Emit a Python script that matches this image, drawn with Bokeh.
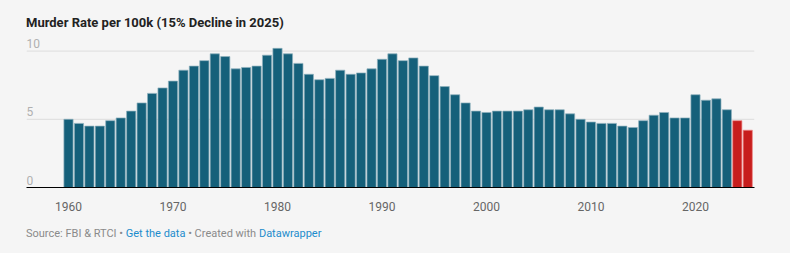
from bokeh.plotting import figure
from bokeh.models import ColumnDataSource, FixedTicker, Range1d, Div
from bokeh.layouts import column
from bokeh.core.properties import value
from bokeh.embed import file_html
from bokeh.resources import INLINE

years = list(range(1960, 2026))
rates = [5.0, 4.7, 4.5, 4.5, 4.9, 5.1, 5.6, 6.2, 6.9, 7.3,
         7.8, 8.6, 8.9, 9.3, 9.8, 9.6, 8.7, 8.8, 8.9, 9.7,
         10.2, 9.8, 9.1, 8.3, 7.9, 8.0, 8.6, 8.3, 8.4, 8.7,
         9.4, 9.8, 9.3, 9.5, 8.9, 8.2, 7.4, 6.8, 6.2, 5.6,
         5.5, 5.6, 5.6, 5.6, 5.7, 5.9, 5.7, 5.7, 5.4, 5.0,
         4.8, 4.7, 4.7, 4.5, 4.4, 4.9, 5.3, 5.5, 5.1, 5.1,
         6.8, 6.4, 6.5, 5.7, 4.9, 4.2]
highlight_years = [2024, 2025]
x_ticks = [1960, 1970, 1980, 1990, 2000, 2010, 2020]
y_ticks = [0, 5, 10]
y_tick_labels = ["0", "5", "10"]
title_text = "Murder Rate per 100k (15% Decline in 2025)"

BLUE = "#15607a"
RED = "#c71e1d"
BG = "#f5f5f5"
LINK = "#1d8ccc"

colors = [RED if y in highlight_years else BLUE for y in years]
edge = ["#e88" if y in highlight_years else "#8fb0bd" for y in years]
src = ColumnDataSource(dict(x=years, top=rates, color=colors, edge=edge))

W = 790
TITLE_H, PLOT_H, FOOT_H = 32, 190, 31
left, right, top, bottom = 26, 36, 4, 35
px_per_year = 10.45
px_per_unit = 13.64
x0 = 1960 - (68 - left) / px_per_year
x1 = x0 + (W - left - right) / px_per_year
y1 = (PLOT_H - top - bottom) / px_per_unit

p = figure(width=W, height=PLOT_H, output_backend="svg", toolbar_location=None,
           x_range=Range1d(x0, x1), y_range=Range1d(0, y1),
           min_border_left=left, min_border_right=right,
           min_border_top=top, min_border_bottom=bottom)
p.background_fill_color = BG
p.border_fill_color = BG
p.outline_line_color = None
p.grid.grid_line_color = None

p.vbar(x="x", top="top", width=0.88, bottom=0, source=src,
       fill_color="color", line_color="edge", line_width=1, line_alpha=0.7)

for t in y_ticks[1:]:
    p.segment(x0=[x0], x1=[x1], y0=[t], y1=[t], line_color="#dddddd", line_width=1, level="underlay")

p.text(x=[x0] * len(y_ticks), y=y_ticks, text=y_tick_labels,
       text_font=value("Roboto"), text_font_size="12px", text_color="#b0b0b0",
       text_baseline="bottom", text_align="left", y_offset=-3)

p.yaxis.visible = False
xa = p.xaxis[0]
xa.ticker = FixedTicker(ticks=x_ticks)
xa.axis_line_color = "#000000"
xa.axis_line_width = 1
xa.major_tick_line_color = None
xa.minor_tick_line_color = None
xa.major_label_text_font = "Roboto"
xa.major_label_text_font_size = "12px"
xa.major_label_text_color = "#666666"
xa.major_label_standoff = 8

title_div = Div(
    text=f'<div style="position:absolute;left:26px;top:14px;font-family:Roboto;font-size:13px;'
         f'font-weight:bold;color:#222;line-height:18px;white-space:nowrap;">{title_text}</div>',
    width=W, height=TITLE_H, margin=0,
    styles={"background-color": BG, "position": "relative"})

footer_div = Div(
    text=f'<div style="position:absolute;left:26px;top:4px;font-family:Roboto;font-size:11px;'
         f'color:#8a8a8a;line-height:16px;white-space:nowrap;">Source: FBI &amp; RTCI \u2022 '
         f'<span style="color:{LINK}">Get the data</span> \u2022 Created with '
         f'<span style="color:{LINK}">Datawrapper</span></div>',
    width=W, height=FOOT_H, margin=0,
    styles={"background-color": BG, "position": "relative"})

layout = column(title_div, p, footer_div, spacing=0, margin=0,
                styles={"background-color": BG})

open("out.html", "w").write(file_html(layout, INLINE))
